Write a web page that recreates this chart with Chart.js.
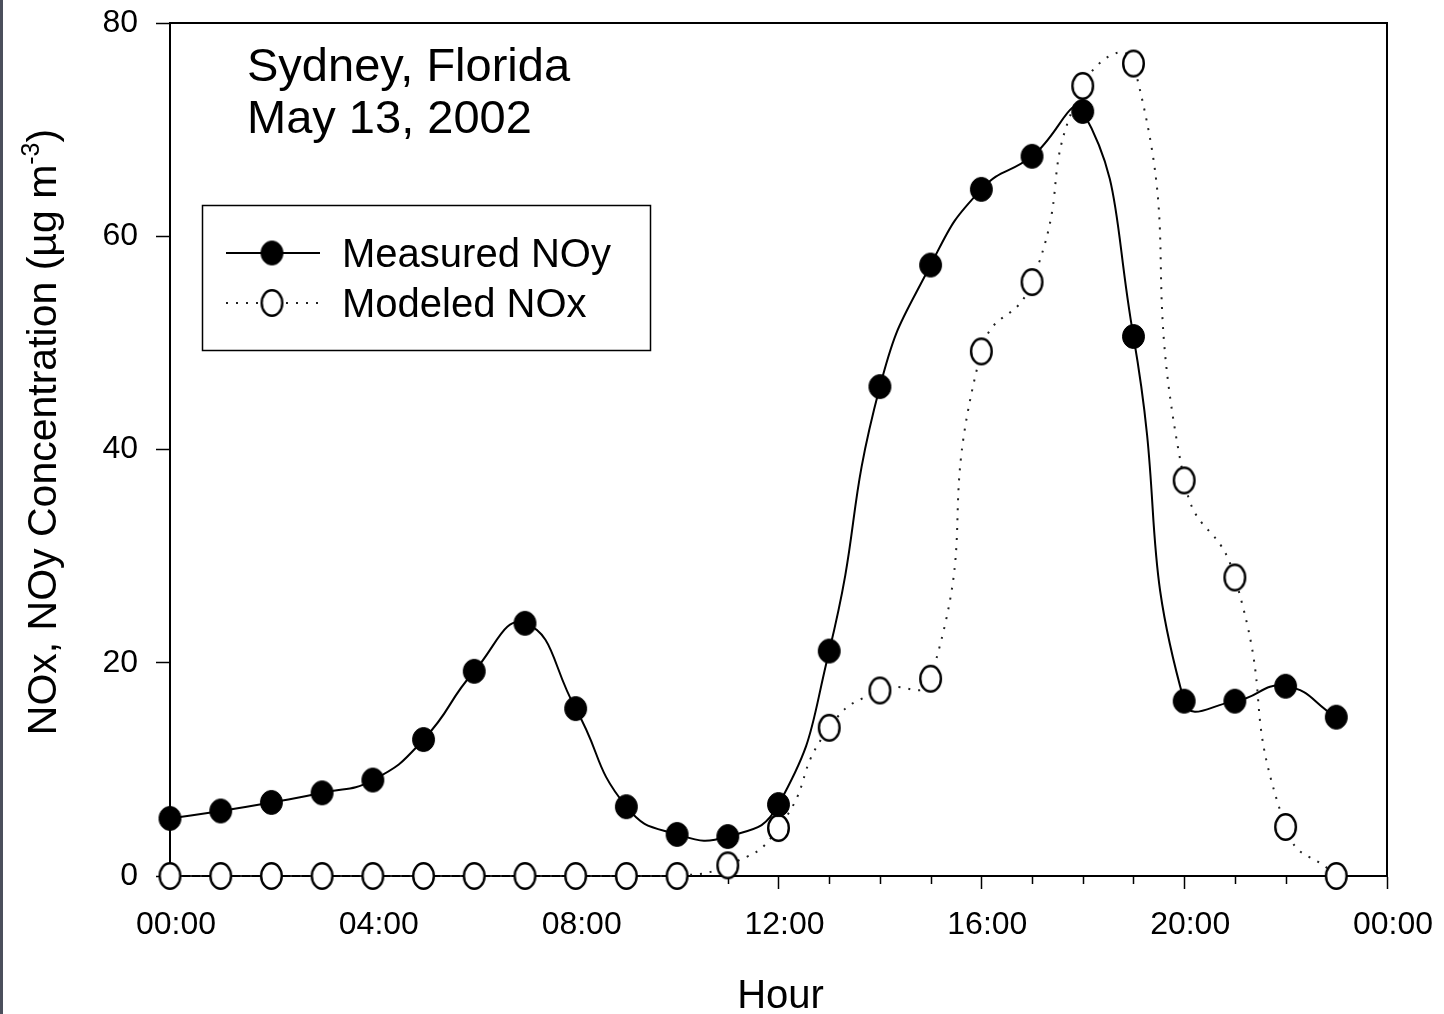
<!DOCTYPE html>
<html lang="en">
<head>
<meta charset="UTF-8">
<title>NOx / NOy - Sydney, Florida</title>
<script src="https://cdn.jsdelivr.net/npm/chart.js"></script>
<style>
    html, body { margin: 0; padding: 0; background: #fff; }
    #wrap { width: 1444px; height: 1014px; position: relative; }
</style>
</head>
<body>
<div id="wrap"><canvas id="noxChart"></canvas></div>

<script>
    // hourly values, 00:00 .. 23:00
    const hours = [0, 1, 2, 3, 4, 5, 6, 7, 8, 9, 10, 11, 12, 13, 14, 15, 16, 17, 18, 19, 20, 21, 22, 23];
    const measuredNOy = [5.4, 6.1, 6.9, 7.8, 9.0, 12.8, 19.2, 23.7, 15.7, 6.5, 3.9, 3.7,
                         6.7, 21.1, 45.9, 57.3, 64.4, 67.5, 71.7, 50.6, 16.4, 16.4, 17.8, 14.9];
    const modeledNOx = [0, 0, 0, 0, 0, 0, 0, 0, 0, 0, 0, 1.0,
                        4.5, 13.9, 17.4, 18.5, 49.2, 55.7, 74.1, 76.2, 37.1, 28.0, 4.6, 0];
    const seriesNames = ['Measured NOy', 'Modeled NOx'];
    const yTicks = [0, 20, 40, 60, 80];
    const annotationLines = ['Sydney, Florida', 'May 13, 2002'];

    const FONT = '"Liberation Sans", Arial, Helvetica, sans-serif';

    const hourLabel = v => {
        const h = v % 24;
        return (h < 10 ? '0' : '') + h + ':00';
    };

    // slightly tall ellipse markers, as the plotting package draws them
    function makeMarker(fill, rx, ry, lw) {
        const c = document.createElement('canvas');
        const w = Math.ceil(rx * 2 + lw + 2), h = Math.ceil(ry * 2 + lw + 2);
        c.width = w;
        c.height = h;
        const g = c.getContext('2d');
        g.beginPath();
        g.ellipse(w / 2, h / 2, rx, ry, 0, 0, Math.PI * 2);
        g.fillStyle = fill;
        g.fill();
        g.lineWidth = lw;
        g.strokeStyle = '#000';
        g.stroke();
        return c;
    }
    const filledDot = makeMarker('#000', 11, 12, 1);
    const openDot = makeMarker('#fff', 10.3, 12.8, 2.4);

    // frame, minor ticks, legend, annotation and axis titles
    const decorPlugin = {
        id: 'decor',
        beforeDraw(chart) {
            const ctx = chart.ctx;
            ctx.save();
            ctx.fillStyle = '#fff';
            ctx.fillRect(0, 0, chart.width, chart.height);
            ctx.fillStyle = '#4b4f5c';
            ctx.fillRect(0, 0, 3, chart.height);
            ctx.restore();
        },
        beforeDatasetsDraw(chart) {
            const { ctx, chartArea: a, scales } = chart;
            ctx.save();
            ctx.strokeStyle = '#000';
            ctx.lineWidth = 2;
            ctx.beginPath();
            ctx.moveTo(a.left, a.top);
            ctx.lineTo(a.right, a.top);
            ctx.lineTo(a.right, a.bottom);
            ctx.stroke();
            // hourly minor ticks
            ctx.lineWidth = 1.5;
            ctx.beginPath();
            for (let h = 1; h < 24; h++) {
                if (h % 4 === 0) continue;
                const x = Math.round(scales.x.getPixelForValue(h)) + 0.5;
                ctx.moveTo(x, a.bottom);
                ctx.lineTo(x, a.bottom + 8);
            }
            ctx.stroke();
            ctx.restore();
        },
        afterDraw(chart) {
            const { ctx, chartArea: a } = chart;
            ctx.save();
            ctx.fillStyle = '#000';
            ctx.textBaseline = 'alphabetic';

            // site / date note
            ctx.font = '47px ' + FONT;
            ctx.textAlign = 'left';
            ctx.fillText(annotationLines[0], 247, 81);
            ctx.fillText(annotationLines[1], 247, 133);

            // legend box
            ctx.strokeStyle = '#000';
            ctx.lineWidth = 1.5;
            ctx.strokeRect(202.5, 205.5, 448, 145);
            const rows = [253, 303];
            chart.data.datasets.forEach((ds, i) => {
                const y = rows[i];
                ctx.save();
                ctx.strokeStyle = ds.borderColor;
                ctx.lineWidth = ds.borderWidth;
                ctx.setLineDash(ds.borderDash || []);
                ctx.beginPath();
                ctx.moveTo(226, y);
                ctx.lineTo(320, y);
                ctx.stroke();
                const img = ds.pointStyle;
                ctx.drawImage(img, 272 - img.width / 2, y - img.height / 2);
                ctx.restore();
                ctx.font = '40px ' + FONT;
                ctx.fillText(ds.label, 342, y + 14);
            });

            // x title
            ctx.font = '40px ' + FONT;
            ctx.textAlign = 'center';
            ctx.fillText('Hour', (a.left + a.right) / 2 + 2, 1008);

            // y title with superscript
            ctx.translate(56, 432);
            ctx.rotate(-Math.PI / 2);
            const main = 'NOx, NOy Concentration (\u00b5g m';
            const sup = '-3';
            const tail = ')';
            ctx.font = '41px ' + FONT;
            const wMain = ctx.measureText(main).width;
            const wTail = ctx.measureText(tail).width;
            ctx.font = '25px ' + FONT;
            const wSup = ctx.measureText(sup).width;
            let x = -(wMain + wSup + wTail) / 2;
            ctx.textAlign = 'left';
            ctx.font = '41px ' + FONT;
            ctx.fillText(main, x, 0);
            x += wMain;
            ctx.font = '25px ' + FONT;
            ctx.fillText(sup, x, -17);
            x += wSup;
            ctx.font = '41px ' + FONT;
            ctx.fillText(tail, x, 0);
            ctx.restore();
        }
    };

    new Chart(document.getElementById('noxChart'), {
        type: 'line',
        data: {
            datasets: [
                {
                    label: seriesNames[0],
                    data: hours.map((h, i) => ({ x: h, y: measuredNOy[i] })),
                    borderColor: '#000',
                    borderWidth: 2,
                    tension: 0.5,
                    pointStyle: filledDot,
                    pointRadius: 11,
                    clip: { left: 20, right: 20, top: 0, bottom: 20 }
                },
                {
                    label: seriesNames[1],
                    data: hours.map((h, i) => ({ x: h, y: modeledNOx[i] })),
                    borderColor: '#222',
                    borderWidth: 2,
                    borderDash: [2, 8],
                    tension: 0.55,
                    pointStyle: openDot,
                    pointRadius: 11,
                    clip: { left: 20, right: 20, top: 0, bottom: 20 }
                }
            ]
        },
        options: {
            responsive: true,
            maintainAspectRatio: false,
            animation: false,
            events: [],
            layout: { padding: { top: 23, right: 57, left: 0, bottom: 0 } },
            plugins: { legend: { display: false }, tooltip: { enabled: false } },
            scales: {
                x: {
                    type: 'linear',
                    min: 0,
                    max: 24,
                    afterFit(scale) {
                        scale.height = 138;
                        scale.paddingLeft = 0;
                        scale.paddingRight = 0;
                    },
                    border: { display: true, color: '#000', width: 2 },
                    grid: { display: true, drawOnChartArea: false, drawTicks: true, tickLength: 13, tickColor: '#000', tickWidth: 1.5 },
                    ticks: {
                        stepSize: 4,
                        color: '#000',
                        padding: 17,
                        labelOffset: 6,
                        maxRotation: 0,
                        font: { family: FONT, size: 32 },
                        callback: v => hourLabel(v)
                    }
                },
                y: {
                    min: 0,
                    max: 80,
                    afterFit(scale) {
                        scale.width = 170;
                        scale.paddingTop = 0;
                        scale.paddingBottom = 0;
                    },
                    afterBuildTicks(scale) { scale.ticks = yTicks.map(v => ({ value: v })); },
                    border: { display: true, color: '#000', width: 2 },
                    grid: { display: true, drawOnChartArea: false, drawTicks: true, tickLength: 14, tickColor: '#000', tickWidth: 1.5 },
                    ticks: {
                        color: '#000',
                        padding: 18,
                        font: { family: FONT, size: 32 }
                    }
                }
            }
        },
        plugins: [decorPlugin]
    });
</script>
</body>
</html>
